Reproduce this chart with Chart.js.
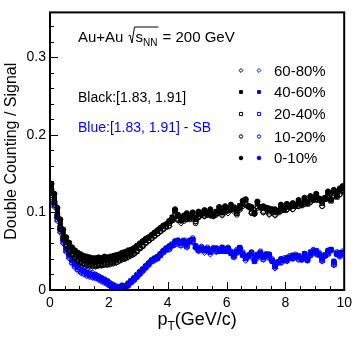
<!DOCTYPE html>
<html lang="en">
<head>
<meta charset="UTF-8">
<title>Double Counting / Signal</title>
<script src="https://cdn.jsdelivr.net/npm/chart.js@4.4.0/dist/chart.umd.min.js"></script>
<style>
  body { margin: 0; background: #fff; }
  #wrap { width: 357px; height: 342px; }
</style>
</head>
<body>
<div id="wrap"><canvas id="myChart" width="357" height="342"></canvas></div>
<script>
    // bin centres in pT (GeV/c)
    const pT = [
        0.05,0.15,0.25,0.35,0.45,0.55,0.65,0.75,0.85,0.95,
        1.05,1.15,1.25,1.35,1.45,1.55,1.65,1.75,1.85,1.95,
        2.05,2.15,2.25,2.35,2.45,2.55,2.65,2.75,2.85,2.95,
        3.05,3.15,3.25,3.35,3.45,3.55,3.65,3.75,3.85,3.95,
        4.05,4.15,4.25,4.35,4.45,4.55,4.65,4.75,4.85,4.95,
        5.05,5.15,5.25,5.35,5.45,5.55,5.65,5.75,5.85,5.95,
        6.05,6.15,6.25,6.35,6.45,6.55,6.65,6.75,6.85,6.95,
        7.05,7.15,7.25,7.35,7.45,7.55,7.65,7.75,7.85,7.95,
        8.05,8.15,8.25,8.35,8.45,8.55,8.65,8.75,8.85,8.95,
        9.05,9.15,9.25,9.35,9.45,9.55,9.65,9.75,9.85,9.95
    ];

    // Black: mass window [1.83, 1.91]
    const black0010 = [
        0.137,0.124,0.106,0.091,0.078,0.068,0.061,0.055,0.051,0.048,
        0.046,0.044,0.043,0.042,0.041,0.041,0.042,0.041,0.043,0.042,
        0.043,0.044,0.045,0.046,0.048,0.049,0.051,0.052,0.054,0.057,
        0.060,0.063,0.066,0.068,0.071,0.074,0.077,0.080,0.083,0.085,
        0.089,0.092,0.104,0.097,0.090,0.096,0.099,0.094,0.100,0.093,
        0.101,0.098,0.103,0.099,0.104,0.097,0.101,0.107,0.100,0.108,
        0.103,0.110,0.105,0.104,0.107,0.115,0.117,0.108,0.107,0.099,
        0.114,0.107,0.108,0.106,0.105,0.104,0.104,0.102,0.110,0.105,
        0.111,0.109,0.112,0.110,0.116,0.111,0.119,0.113,0.121,0.118,
        0.124,0.118,0.116,0.119,0.127,0.117,0.129,0.122,0.131,0.134
    ];
    const black1020 = [
        0.130,0.114,0.097,0.082,0.069,0.059,0.052,0.046,0.042,0.039,
        0.037,0.035,0.034,0.033,0.033,0.032,0.033,0.033,0.034,0.035,
        0.036,0.037,0.038,0.039,0.041,0.042,0.044,0.046,0.048,0.051,
        0.055,0.058,0.061,0.064,0.067,0.070,0.073,0.076,0.079,0.081,
        0.083,0.091,0.097,0.090,0.089,0.089,0.094,0.091,0.095,0.086,
        0.094,0.098,0.095,0.097,0.096,0.095,0.097,0.102,0.097,0.100,
        0.102,0.103,0.104,0.097,0.106,0.108,0.110,0.107,0.099,0.098,
        0.106,0.106,0.100,0.105,0.098,0.103,0.097,0.101,0.102,0.104,
        0.104,0.108,0.104,0.109,0.108,0.110,0.111,0.112,0.113,0.117,
        0.117,0.117,0.108,0.118,0.119,0.116,0.121,0.121,0.123,0.128
    ];
    const black2040 = [
        0.128,0.113,0.095,0.080,0.067,0.058,0.051,0.045,0.041,0.038,
        0.036,0.034,0.033,0.032,0.031,0.031,0.032,0.032,0.033,0.033,
        0.034,0.035,0.036,0.038,0.040,0.041,0.043,0.045,0.047,0.050,
        0.054,0.057,0.061,0.064,0.067,0.070,0.073,0.076,0.079,0.082,
        0.086,0.090,0.101,0.091,0.090,0.091,0.095,0.092,0.096,0.089,
        0.095,0.099,0.097,0.098,0.098,0.096,0.099,0.101,0.100,0.102,
        0.103,0.104,0.106,0.099,0.105,0.111,0.112,0.108,0.101,0.100,
        0.108,0.107,0.102,0.106,0.101,0.102,0.100,0.100,0.106,0.103,
        0.107,0.107,0.108,0.108,0.112,0.109,0.115,0.111,0.117,0.116,
        0.120,0.116,0.112,0.117,0.123,0.115,0.125,0.120,0.127,0.129
    ];
    const black4060 = [
        0.133,0.119,0.101,0.086,0.073,0.063,0.056,0.050,0.046,0.043,
        0.041,0.039,0.038,0.037,0.037,0.036,0.037,0.037,0.038,0.038,
        0.039,0.040,0.041,0.042,0.044,0.045,0.047,0.049,0.051,0.054,
        0.058,0.061,0.064,0.067,0.070,0.073,0.076,0.079,0.082,0.084,
        0.088,0.094,0.102,0.095,0.092,0.093,0.097,0.094,0.098,0.091,
        0.097,0.100,0.099,0.100,0.100,0.098,0.101,0.104,0.102,0.104,
        0.105,0.106,0.107,0.101,0.109,0.111,0.116,0.108,0.105,0.099,
        0.112,0.107,0.106,0.106,0.103,0.104,0.102,0.102,0.108,0.105,
        0.109,0.109,0.110,0.110,0.114,0.111,0.117,0.113,0.119,0.118,
        0.122,0.118,0.114,0.119,0.125,0.117,0.127,0.122,0.129,0.131
    ];
    const black6080 = [
        0.126,0.110,0.093,0.078,0.066,0.056,0.049,0.044,0.040,0.037,
        0.035,0.033,0.032,0.031,0.030,0.030,0.031,0.031,0.032,0.032,
        0.033,0.034,0.035,0.037,0.039,0.040,0.042,0.044,0.046,0.049,
        0.053,0.056,0.060,0.063,0.066,0.069,0.072,0.075,0.078,0.081,
        0.082,0.089,0.097,0.092,0.086,0.092,0.091,0.093,0.092,0.088,
        0.093,0.097,0.095,0.097,0.096,0.095,0.097,0.102,0.096,0.103,
        0.099,0.105,0.101,0.100,0.103,0.110,0.110,0.107,0.099,0.098,
        0.106,0.106,0.100,0.105,0.097,0.103,0.096,0.101,0.102,0.104,
        0.103,0.108,0.104,0.109,0.108,0.110,0.111,0.112,0.113,0.117,
        0.116,0.117,0.108,0.118,0.119,0.116,0.121,0.121,0.123,0.128
    ];

    // Blue: [1.83, 1.91] - SB
    const blue0010 = [
        0.125,0.112,0.094,0.078,0.064,0.053,0.045,0.038,0.033,0.029,
        0.026,0.024,0.022,0.020,0.019,0.018,0.016,0.014,0.012,0.010,
        0.007,0.005,0.003,0.002,0.005,0.003,0.007,0.011,0.014,0.018,
        0.022,0.026,0.030,0.034,0.038,0.040,0.042,0.046,0.050,0.053,
        0.055,0.058,0.061,0.064,0.060,0.063,0.058,0.064,0.065,0.055,
        0.053,0.054,0.051,0.053,0.049,0.054,0.052,0.051,0.053,0.052,
        0.053,0.048,0.045,0.050,0.054,0.047,0.041,0.045,0.047,0.039,
        0.044,0.048,0.042,0.046,0.044,0.038,0.031,0.036,0.038,0.039,
        0.040,0.042,0.043,0.044,0.042,0.040,0.045,0.039,0.047,0.050,
        0.049,0.046,0.040,0.045,0.049,0.052,0.035,0.047,0.046,0.048
    ];
    const blue1020 = [
        0.127,0.114,0.097,0.081,0.067,0.056,0.048,0.041,0.036,0.032,
        0.029,0.027,0.025,0.023,0.022,0.020,0.018,0.016,0.014,0.012,
        0.009,0.007,0.005,0.004,0.006,0.005,0.009,0.012,0.016,0.020,
        0.024,0.027,0.031,0.035,0.039,0.041,0.043,0.047,0.051,0.054,
        0.057,0.057,0.063,0.063,0.062,0.062,0.060,0.063,0.067,0.057,
        0.052,0.056,0.051,0.055,0.051,0.053,0.054,0.050,0.055,0.051,
        0.055,0.050,0.044,0.052,0.053,0.049,0.043,0.044,0.049,0.041,
        0.043,0.050,0.044,0.045,0.046,0.040,0.033,0.035,0.040,0.041,
        0.039,0.044,0.042,0.046,0.044,0.039,0.047,0.041,0.046,0.052,
        0.048,0.048,0.042,0.044,0.051,0.051,0.037,0.049,0.045,0.050
    ];
    const blue2040 = [
        0.122,0.109,0.091,0.076,0.062,0.051,0.043,0.036,0.031,0.027,
        0.024,0.022,0.020,0.019,0.017,0.016,0.015,0.013,0.011,0.009,
        0.006,0.004,0.002,0.001,0.004,0.002,0.006,0.010,0.013,0.017,
        0.021,0.025,0.029,0.033,0.037,0.039,0.041,0.045,0.049,0.052,
        0.053,0.059,0.059,0.062,0.058,0.064,0.056,0.062,0.063,0.056,
        0.051,0.052,0.052,0.051,0.049,0.052,0.050,0.052,0.051,0.050,
        0.051,0.049,0.043,0.048,0.054,0.045,0.041,0.043,0.047,0.037,
        0.044,0.046,0.040,0.046,0.042,0.038,0.030,0.036,0.036,0.039,
        0.038,0.042,0.041,0.044,0.040,0.040,0.043,0.039,0.045,0.050,
        0.047,0.046,0.038,0.045,0.047,0.052,0.033,0.047,0.044,0.048
    ];
    const blue4060 = [
        0.126,0.113,0.095,0.079,0.065,0.054,0.046,0.039,0.034,0.030,
        0.027,0.025,0.023,0.021,0.020,0.019,0.017,0.015,0.013,0.011,
        0.008,0.006,0.004,0.003,0.006,0.004,0.008,0.012,0.015,0.019,
        0.023,0.027,0.031,0.034,0.038,0.041,0.043,0.046,0.050,0.054,
        0.056,0.057,0.063,0.063,0.061,0.062,0.060,0.063,0.065,0.057,
        0.054,0.053,0.053,0.052,0.051,0.053,0.054,0.050,0.055,0.051,
        0.054,0.047,0.046,0.049,0.055,0.046,0.043,0.044,0.048,0.038,
        0.046,0.047,0.044,0.045,0.046,0.037,0.033,0.035,0.040,0.038,
        0.042,0.041,0.045,0.043,0.044,0.039,0.047,0.038,0.049,0.049,
        0.051,0.045,0.042,0.044,0.051,0.051,0.037,0.046,0.048,0.047
    ];
    const blue6080 = [
        0.120,0.107,0.089,0.074,0.060,0.049,0.041,0.034,0.029,0.025,
        0.022,0.020,0.018,0.017,0.016,0.015,0.013,0.011,0.009,0.007,
        0.005,0.003,0.001,0.000,0.003,0.001,0.005,0.009,0.012,0.016,
        0.020,0.024,0.028,0.032,0.036,0.038,0.040,0.044,0.048,0.051,
        0.052,0.057,0.058,0.063,0.057,0.062,0.055,0.063,0.062,0.054,
        0.050,0.053,0.048,0.052,0.046,0.053,0.049,0.050,0.050,0.051,
        0.050,0.047,0.042,0.049,0.051,0.046,0.038,0.044,0.044,0.038,
        0.041,0.047,0.039,0.045,0.041,0.037,0.028,0.035,0.035,0.038,
        0.037,0.041,0.040,0.043,0.039,0.039,0.042,0.038,0.044,0.049,
        0.046,0.045,0.037,0.044,0.046,0.051,0.032,0.046,0.043,0.047
    ];

    const centLabels = ['60-80%', '40-60%', '20-40%', '10-20%', '0-10%'];
    const xTicks = [0, 2, 4, 6, 8, 10];
    const yTicks = [0, 0.1, 0.2, 0.3];
    const yMax = 0.358;

    const FONT = '"Liberation Sans", Arial, Helvetica, sans-serif';
    const BLUE = '#0000ff';

    // marker look per centrality (same order as centLabels)
    const markers = [
        { style: 'rectRot', filled: false, r: 2.8 },
        { style: 'rect', filled: true, r: 2.9 },
        { style: 'rect', filled: false, r: 3.2 },
        { style: 'circle', filled: false, r: 2.4 },
        { style: 'circle', filled: true, r: 2.6 }
    ];
    const blackSets = [black6080, black4060, black2040, black1020, black0010];
    const blueSets = [blue6080, blue4060, blue2040, blue1020, blue0010];

    function toPoints(ys) {
        return pT.map((x, i) => ({ x: x, y: ys[i] }));
    }

    function makeSet(ys, m, color, name) {
        return {
            label: name,
            data: toPoints(ys),
            pointStyle: m.style,
            pointRadius: m.r,
            pointHoverRadius: m.r,
            borderWidth: 1,
            borderColor: color,
            backgroundColor: m.filled ? color : 'rgba(0,0,0,0)',
            showLine: false
        };
    }

    const datasets = [];
    // black on top -> put them first (Chart.js draws the first dataset last)
    for (let i = 4; i >= 0; i--) datasets.push(makeSet(blackSets[i], markers[i], '#000', 'black ' + centLabels[i]));
    for (let i = 4; i >= 0; i--) datasets.push(makeSet(blueSets[i], markers[i], BLUE, 'blue ' + centLabels[i]));

    // frame, inside ticks, x title and text boxes
    const decorations = {
        id: 'decorations',
        afterDraw(chart) {
            const ctx = chart.ctx;
            const a = chart.chartArea;
            const xs = chart.scales.x, ys = chart.scales.y;
            ctx.save();
            ctx.strokeStyle = '#000';
            ctx.lineWidth = 1;
            // ticks on left and bottom, pointing in
            for (let v = 0; v <= 10.001; v += 0.5) {
                const px = Math.round(xs.getPixelForValue(v)) + 0.5;
                const len = xTicks.includes(Math.round(v * 10) / 10) ? 8 : 4;
                ctx.beginPath(); ctx.moveTo(px, a.bottom); ctx.lineTo(px, a.bottom - len); ctx.stroke();
            }
            for (let k = 0; k * 0.02 < yMax; k++) {
                const py = Math.round(ys.getPixelForValue(k * 0.02)) + 0.5;
                const len = k % 5 === 0 ? 8 : 4;
                ctx.beginPath(); ctx.moveTo(a.left, py); ctx.lineTo(a.left + len, py); ctx.stroke();
            }
            // frame
            ctx.lineWidth = 2;
            ctx.strokeRect(a.left, a.top, a.right - a.left, a.bottom - a.top);

            // x axis title p_T(GeV/c)
            ctx.fillStyle = '#000';
            ctx.textBaseline = 'alphabetic';
            ctx.font = '18px ' + FONT;
            const pW = ctx.measureText('p').width;
            const restW = ctx.measureText('(GeV/c)').width;
            ctx.font = '12px ' + FONT;
            const tW = ctx.measureText('T').width;
            let tx = (a.left + a.right) / 2 - (pW + tW + restW) / 2;
            const tBase = 325;
            ctx.font = '18px ' + FONT;
            ctx.fillText('p', tx, tBase); tx += pW;
            ctx.font = '12px ' + FONT;
            ctx.fillText('T', tx, tBase + 5); tx += tW;
            ctx.font = '18px ' + FONT;
            ctx.fillText('(GeV/c)', tx, tBase);

            // Au+Au sqrt(s_NN) = 200 GeV
            let x0 = 78;
            const b0 = 42;
            ctx.font = '15px ' + FONT;
            ctx.fillText('Au+Au', x0, b0);
            x0 += ctx.measureText('Au+Au').width + 5;
            ctx.lineWidth = 1;
            ctx.beginPath();
            ctx.moveTo(x0, b0 - 6);
            ctx.lineTo(x0 + 1.5, b0 - 7);
            ctx.lineTo(x0 + 3.5, b0 + 1);
            ctx.lineTo(x0 + 6, b0 - 15);
            x0 += 7;
            ctx.fillText('s', x0, b0);
            x0 += ctx.measureText('s').width;
            ctx.font = '10px ' + FONT;
            ctx.fillText('NN', x0, b0 + 4);
            x0 += ctx.measureText('NN').width + 1;
            ctx.lineTo(x0, b0 - 15);
            ctx.stroke();
            ctx.font = '15px ' + FONT;
            ctx.fillText(' = 200 GeV', x0, b0);

            ctx.font = '14px ' + FONT;
            ctx.fillText('Black:[1.83, 1.91]', 78, 102);
            ctx.fillStyle = BLUE;
            ctx.fillText('Blue:[1.83, 1.91] - SB', 78, 132);
            ctx.restore();
        }
    };

    // legend: black marker, blue marker, label for each centrality
    const legendPlugin = {
        id: 'legendMarks',
        afterDraw(chart) {
            const ctx = chart.ctx;
            const rowY = [70.5, 92, 114, 136.5, 158];
            ctx.save();
            centLabels.forEach((lab, i) => {
                const m = markers[i];
                [['#000', 241], [BLUE, 259]].forEach(([col, mx]) => {
                    ctx.strokeStyle = col;
                    ctx.fillStyle = m.filled ? col : 'rgba(0,0,0,0)';
                    ctx.lineWidth = 1;
                    Chart.helpers.drawPoint(ctx, { pointStyle: m.style, radius: m.r * 0.7, borderWidth: 1, rotation: 0 }, mx, rowY[i]);
                });
                ctx.fillStyle = '#000';
                ctx.font = '15px ' + FONT;
                ctx.textBaseline = 'middle';
                ctx.fillText(lab, 274, rowY[i] + 1);
            });
            ctx.restore();
        }
    };

    const ctx = document.getElementById('myChart').getContext('2d');
    const myChart = new Chart(ctx, {
        type: 'scatter',
        data: { datasets: datasets },
        options: {
            responsive: false,
            devicePixelRatio: 1,
            animation: false,
            events: [],
            layout: { padding: { top: 7, right: 11, left: 0, bottom: 0 } },
            plugins: {
                legend: { display: false },
                tooltip: { enabled: false }
            },
            scales: {
                x: {
                    type: 'linear',
                    min: 0,
                    max: 10,
                    grid: { display: false, drawTicks: false },
                    border: { display: false },
                    ticks: {
                        color: '#000',
                        font: { family: FONT, size: 14 },
                        padding: 5,
                        maxRotation: 0,
                        callback: v => String(v)
                    },
                    afterBuildTicks: s => { s.ticks = xTicks.map(v => ({ value: v })); },
                    afterFit: s => { s.height = 52; }
                },
                y: {
                    type: 'linear',
                    min: 0,
                    max: yMax,
                    grid: { display: false, drawTicks: false },
                    border: { display: false },
                    ticks: {
                        color: '#000',
                        font: { family: FONT, size: 14 },
                        padding: 4,
                        callback: v => String(v)
                    },
                    title: {
                        display: true,
                        text: 'Double Counting / Signal',
                        color: '#000',
                        font: { family: FONT, size: 16 },
                        padding: { top: 2, bottom: 0 }
                    },
                    afterBuildTicks: s => { s.ticks = yTicks.map(v => ({ value: v })); },
                    afterFit: s => { s.width = 50; }
                }
            }
        },
        plugins: [decorations, legendPlugin]
    });
</script>
</body>
</html>
